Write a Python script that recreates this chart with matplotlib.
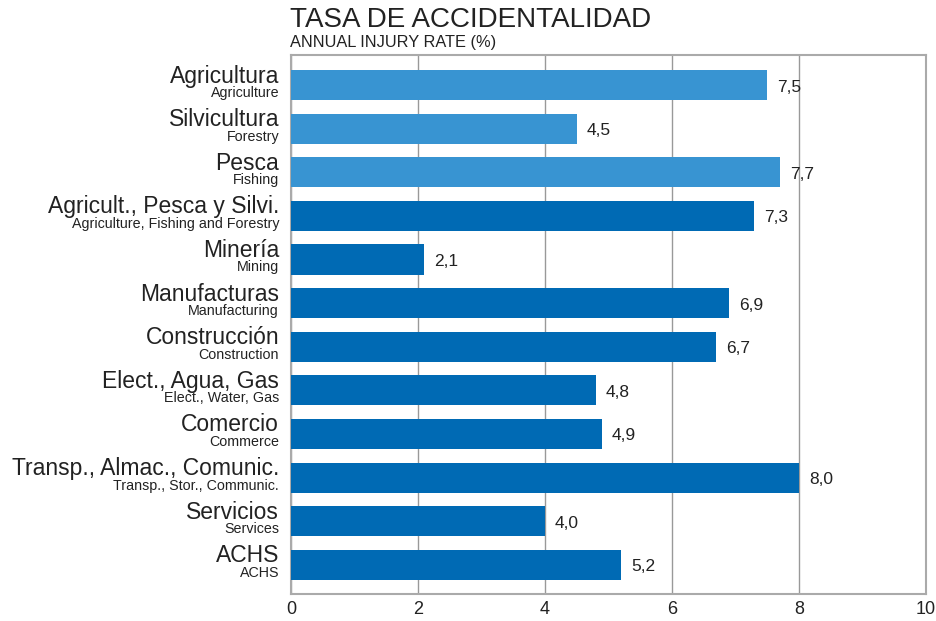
import matplotlib
matplotlib.use('Agg')
import matplotlib.pyplot as plt

# datos del grafico
categorias = ["Agricultura", "Silvicultura", "Pesca", "Agricult., Pesca y Silvi.", "Minería",
              "Manufacturas", "Construcción", "Elect., Agua, Gas", "Comercio",
              "Transp., Almac., Comunic.", "Servicios", "ACHS"]
subtitulos = ["Agriculture", "Forestry", "Fishing", "Agriculture, Fishing and Forestry", "Mining",
              "Manufacturing", "Construction", "Elect., Water, Gas", "Commerce",
              "Transp., Stor., Communic.", "Services", "ACHS"]
tasas = [7.5, 4.5, 7.7, 7.3, 2.1, 6.9, 6.7, 4.8, 4.9, 8.0, 4.0, 5.2]
es_sub = [True, True, True, False, False, False, False, False, False, False, False, False]
ticks_x = [0, 2, 4, 6, 8, 10]

azul_claro = "#3894d2"
azul = "#006ab4"

plt.rcParams['font.family'] = ['Liberation Sans', 'DejaVu Sans']

fig = plt.figure(figsize=(9.36, 6.21), dpi=100)
ax = fig.add_axes([0.311, 0.0435, 0.678, 0.868])

ys = list(range(len(categorias)))
colores = [azul_claro if s else azul for s in es_sub]
ax.barh(ys, tasas, height=0.69, color=colores, zorder=3)

for y, v in zip(ys, tasas):
    ax.annotate(f"{v:.1f}".replace(".", ","), xy=(v, y), xytext=(10, -2),
                textcoords='offset pixels', va='center', ha='left',
                fontsize=12.5, color='#222222')

# etiquetas de categoria (dos lineas)
for y, cat, sub in zip(ys, categorias, subtitulos):
    ax.annotate(cat, xy=(0, y), xycoords=('axes fraction', 'data'), xytext=(-12, 9),
                textcoords='offset pixels', ha='right', va='center', fontsize=16.5, color='#222222')
    ax.annotate(sub, xy=(0, y), xycoords=('axes fraction', 'data'), xytext=(-12, -8),
                textcoords='offset pixels', ha='right', va='center', fontsize=10.3, color='#222222')

ax.set_xlim(0, 10)
ax.set_ylim(len(categorias) - 0.33, -0.69)
ax.set_xticks(ticks_x)
ax.set_yticks([])
ax.tick_params(axis='x', length=0, labelsize=13, labelcolor='#222222', pad=5)
ax.grid(axis='x', color='#999999', linewidth=1, zorder=0)
for s in ax.spines.values():
    s.set_color('#aaaaaa')
    s.set_linewidth(1.5)

fig.text(0.31, 0.968, "TASA DE ACCIDENTALIDAD", fontsize=20, color='#222222', va='center', ha='left')
fig.text(0.31, 0.931, "ANNUAL INJURY RATE (%)", fontsize=11.8, color='#222222', va='center', ha='left')

fig.savefig("out.png", dpi=100)
plt.close(fig)
